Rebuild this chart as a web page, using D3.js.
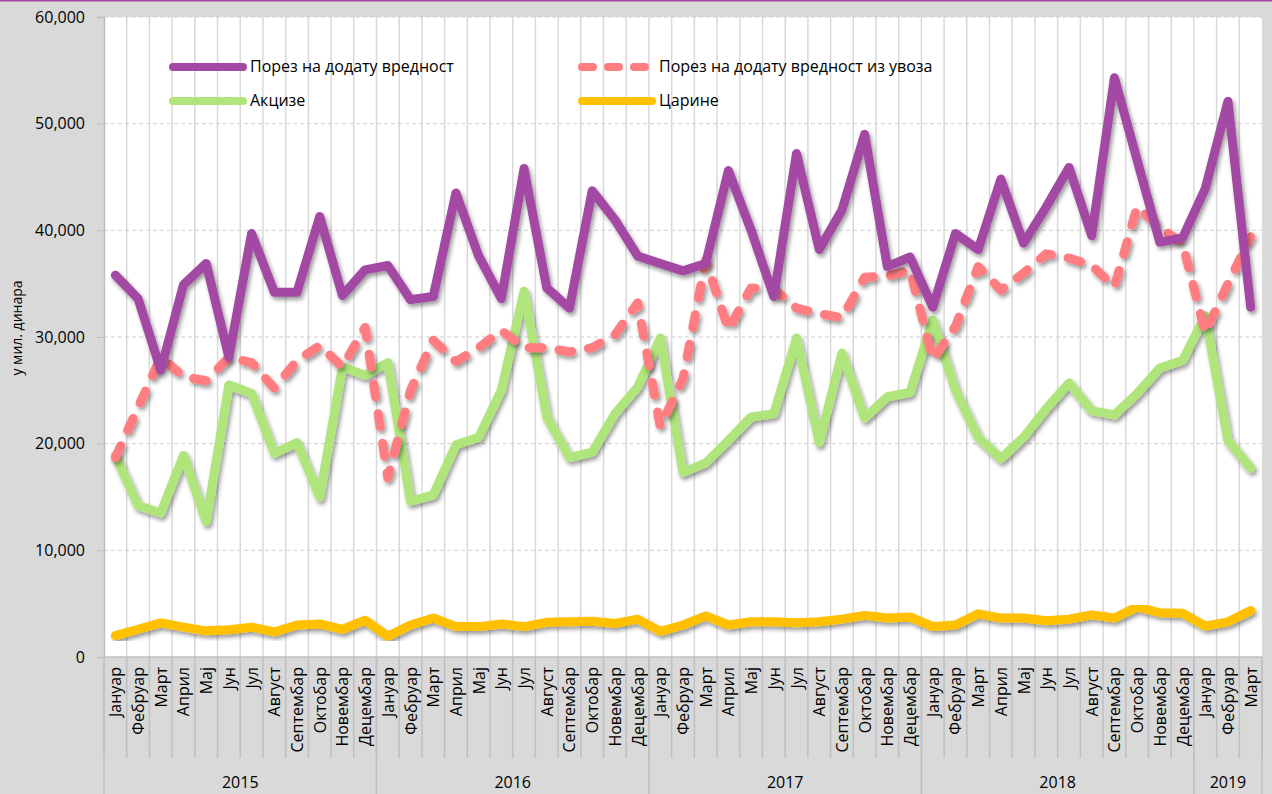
<!DOCTYPE html>
<html lang="sr">
<head>
<meta charset="utf-8">
<title>Порески приходи</title>
<script src="https://cdn.jsdelivr.net/npm/d3@7/dist/d3.min.js"></script>
<style>
  html, body { margin: 0; padding: 0; background: #d9d9d9; }
  svg { display: block; font-family: "Open Sans", "Noto Sans", sans-serif; }
</style>
</head>
<body>
<svg id="chart" width="1272" height="794"></svg>
<script>
// months per year, 2015-01 .. 2019-03
var months = ["Јануар", "Фебруар", "Март", "Април", "Мај", "Јун", "Јул", "Август",
              "Септембар", "Октобар", "Новембар", "Децембар"];
var years = [2015, 2016, 2017, 2018, 2019];
var monthsPerYear = [12, 12, 12, 12, 3];
var yTicks = [0, 10000, 20000, 30000, 40000, 50000, 60000];

// у мил. динара
var pdv = [35800, 33600, 26900, 34900, 36900, 28100, 39700, 34200, 34200, 41300, 33900, 36300,
           36700, 33500, 33800, 43500, 37600, 33600, 45800, 34600, 32700, 43700, 41000, 37600,
           36900, 36200, 36900, 45600, 40000, 33800, 47200, 38200, 41900, 49000, 36600, 37500,
           32800, 39700, 38200, 44800, 38800, 42200, 45900, 39500, 54300, 46600, 38900, 39300,
           43900, 52100, 32800];
var pdvUvoz = [18700, 23400, 28100, 26300, 25900, 28100, 27600, 25200, 27800, 29200, 27200, 30900,
               16800, 25000, 29700, 27700, 29000, 30600, 29000, 29000, 28600, 29000, 30200, 33200,
               21600, 26100, 37200, 30700, 34600, 34500, 32700, 32200, 31800, 35600, 35700, 36300,
               27900, 31000, 36600, 34400, 36000, 37800, 37400, 36700, 34700, 42200, 40300, 38800,
               30400, 35000, 39400];
var akcize = [18900, 14200, 13500, 18900, 12700, 25500, 24700, 19100, 20100, 15000, 27200, 26400,
              27600, 14600, 15200, 19900, 20600, 25000, 34300, 22500, 18700, 19200, 22800, 25300,
              29900, 17300, 18200, 20300, 22500, 22800, 29900, 20100, 28500, 22400, 24400, 24800,
              31600, 25000, 20600, 18600, 20600, 23300, 25700, 23100, 22700, 24700, 27100, 27800,
              32000, 20300, 17700];
var carine = [2000, 2600, 3200, 2800, 2450, 2550, 2800, 2350, 3000, 3100, 2600, 3450,
              1950, 3000, 3650, 2850, 2850, 3100, 2850, 3250, 3300, 3350, 3150, 3550,
              2400, 3000, 3850, 3000, 3300, 3300, 3200, 3300, 3550, 3900, 3650, 3750,
              2850, 3000, 4050, 3650, 3650, 3400, 3550, 3950, 3650, 4700, 4150, 4100,
              2900, 3300, 4350];

var seriesNames = ["Порез на додату вредност", "Порез на додату вредност из увоза", "Акцизе", "Царине"];
var seriesColors = ["#a349a4", "#ff7c80", "#afe57a", "#ffc000"];

var labels = [];
years.forEach(function (yr, k) {
    for (var m = 0; m < monthsPerYear[k]; m++) labels.push(months[m]);
});

var svg = d3.select("#chart");
var pLeft = 104, pRight = 1262, pTop = 17, pBottom = 657;

var x = d3.scaleBand().domain(d3.range(labels.length)).range([pLeft, pRight]).padding(0);
var y = d3.scaleLinear().domain([0, 60000]).range([pBottom, pTop]);

// top border line
svg.append("rect").attr("x", 0).attr("y", 0).attr("width", 1272).attr("height", 1.5).attr("fill", "#a349a4");

// shadow filter
var defs = svg.append("defs");
var f = defs.append("filter").attr("id", "shadow").attr("x", "-5%").attr("y", "-5%").attr("width", "110%").attr("height", "120%");
f.append("feDropShadow").attr("dx", 2).attr("dy", 3).attr("stdDeviation", 2)
    .attr("flood-color", "#000").attr("flood-opacity", 0.4);

// plot background
svg.append("rect").attr("x", pLeft).attr("y", pTop).attr("width", pRight - pLeft).attr("height", pBottom - pTop).attr("fill", "#fff");

// vertical gridlines at category boundaries
svg.append("g").selectAll("line")
    .data(d3.range(1, labels.length))
    .enter().append("line")
    .attr("x1", function (d) { return x(d); })
    .attr("x2", function (d) { return x(d); })
    .attr("y1", pTop).attr("y2", pBottom)
    .attr("stroke", "#d9d9d9").attr("stroke-width", 1.5);

// horizontal gridlines
svg.append("g").selectAll("line")
    .data(yTicks.slice(1))
    .enter().append("line")
    .attr("x1", pLeft).attr("x2", pRight)
    .attr("y1", function (d) { return y(d); })
    .attr("y2", function (d) { return y(d); })
    .attr("stroke", "#cfcfcf").attr("stroke-width", 1).attr("stroke-dasharray", "4,3");

// y axis
var yAxis = d3.axisLeft(y).tickValues(yTicks).tickSize(7).tickPadding(12)
    .tickFormat(function (d) { return d === 0 ? "0" : d3.format(",")(d); });
var gy = svg.append("g").attr("transform", "translate(" + pLeft + ",0)").call(yAxis);
gy.select(".domain").attr("stroke", "#bfbfbf").attr("stroke-width", 1.5);
gy.selectAll(".tick line").attr("stroke", "#bfbfbf");
gy.selectAll(".tick text").attr("font-size", 16).attr("fill", "#000")
    .attr("font-family", "'Open Sans', sans-serif");

svg.append("text")
    .attr("transform", "translate(22,328) rotate(-90)")
    .attr("text-anchor", "middle")
    .attr("font-size", 14)
    .text("у мил. динара");

// x axis: month separators
var gx = svg.append("g");
gx.append("line").attr("x1", pLeft).attr("x2", pRight).attr("y1", pBottom).attr("y2", pBottom)
    .attr("stroke", "#bfbfbf").attr("stroke-width", 1.5);
gx.selectAll("line.sep")
    .data(d3.range(0, labels.length + 1))
    .enter().append("line")
    .attr("class", "sep")
    .attr("x1", function (d) { return d === labels.length ? pRight : x(d); })
    .attr("x2", function (d) { return d === labels.length ? pRight : x(d); })
    .attr("y1", pBottom)
    .attr("y2", 758)
    .attr("stroke", "#bfbfbf").attr("stroke-width", 1.5);

gx.selectAll("text.month")
    .data(labels)
    .enter().append("text")
    .attr("class", "month")
    .attr("transform", function (d, i) {
        return "translate(" + (x(i) + x.bandwidth() / 2 + 6) + "," + 667 + ") rotate(-90)";
    })
    .attr("text-anchor", "end")
    .attr("font-size", 16)
    .text(function (d) { return d; });

// year groups
var starts = [0];
monthsPerYear.forEach(function (n, k) { starts.push(starts[k] + n); });
gx.selectAll("line.year")
    .data(starts)
    .enter().append("line")
    .attr("class", "year")
    .attr("x1", function (d) { return d === labels.length ? pRight : x(d); })
    .attr("x2", function (d) { return d === labels.length ? pRight : x(d); })
    .attr("y1", pBottom).attr("y2", 794)
    .attr("stroke", "#bfbfbf").attr("stroke-width", 1.5);
gx.selectAll("text.year")
    .data(years)
    .enter().append("text")
    .attr("class", "year")
    .attr("x", function (d, k) {
        var a = x(starts[k]);
        var b = starts[k + 1] === labels.length ? pRight : x(starts[k + 1]);
        return (a + b) / 2;
    })
    .attr("y", 788)
    .attr("text-anchor", "middle")
    .attr("font-size", 16)
    .text(function (d) { return d; });

// lines
var line = d3.line()
    .x(function (d, i) { return x(i) + x.bandwidth() / 2; })
    .y(function (d) { return y(d); });

var seriesData = [pdv, pdvUvoz, akcize, carine];
var order = [3, 2, 1, 0];
order.forEach(function (s) {
    svg.append("path")
        .datum(seriesData[s])
        .attr("d", line)
        .attr("fill", "none")
        .attr("stroke", seriesColors[s])
        .attr("stroke-width", 9)
        .attr("stroke-linejoin", "round")
        .attr("stroke-linecap", "round")
        .attr("stroke-dasharray", s === 1 ? "13,17" : null)
        .attr("filter", "url(#shadow)");
});

// legend
var legendPos = [[173, 67], [582, 67], [173, 101], [582, 101]];
var lg = svg.append("g");
seriesNames.forEach(function (name, s) {
    var p = legendPos[s];
    lg.append("line")
        .attr("x1", p[0]).attr("x2", p[0] + 70)
        .attr("y1", p[1]).attr("y2", p[1])
        .attr("stroke", seriesColors[s]).attr("stroke-width", 8)
        .attr("stroke-linecap", "round")
        .attr("stroke-dasharray", s === 1 ? "11,15" : null);
    lg.append("text")
        .attr("x", p[0] + 77).attr("y", p[1] + 5)
        .attr("font-size", 16)
        .text(name);
});
</script>
</body>
</html>
